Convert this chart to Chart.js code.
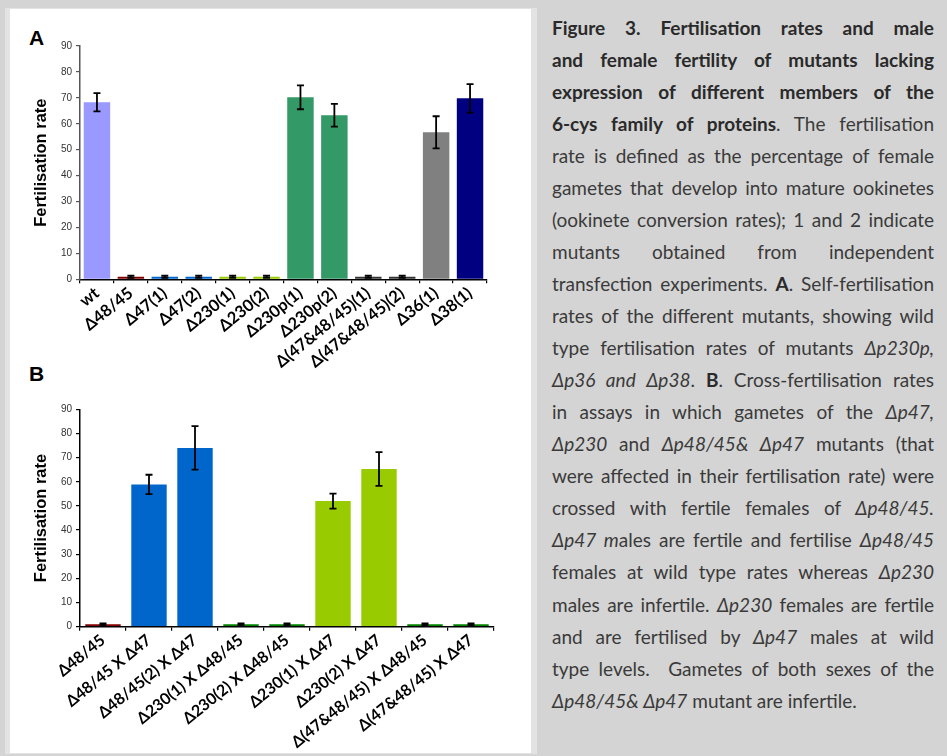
<!DOCTYPE html>
<html>
<head>
<meta charset="utf-8">
<script src="https://cdn.jsdelivr.net/npm/chart.js@4.4.1/dist/chart.umd.min.js"></script>
<style>
  html, body { margin:0; padding:0; }
  body { width:947px; height:756px; background:#d4d4d4; position:relative; overflow:hidden; }
  #strip { position:absolute; left:5px; top:8px; width:532px; height:746px; background:#e3e3e3; }
  #panel { position:absolute; left:10px; top:9px; width:521px; height:744px; background:#ffffff; }
  canvas { position:absolute; }
  .plab { position:absolute; font-family:"Liberation Sans", Arial, sans-serif; font-weight:bold; font-size:21px; color:#000; }
  #caption { position:absolute; left:552px; top:11.7px; width:382px; font-family:Lato, "Open Sans", sans-serif; font-size:18px; line-height:32.05px; color:#3a3a3a; }
  #caption div { white-space:nowrap; text-align:justify; text-align-last:justify; height:32.05px; }
  #caption div.last { text-align:left; text-align-last:left; }
  #caption b { color:#2a2a2a; }
  #measure { position:absolute; left:0; top:-200px; white-space:nowrap; visibility:hidden; font-family:Lato, "Open Sans", sans-serif; }
</style>
</head>
<body>
<div id="strip"></div>
<div id="panel"></div>
<div class="plab" style="left:29px; top:26px;">A</div>
<div class="plab" style="left:29px; top:362px;">B</div>
<canvas id="cA" width="522" height="385" style="left:9px; top:9px;"></canvas>
<canvas id="cB" width="522" height="380" style="left:9px; top:376px;"></canvas>
<div id="caption">
  <div><b>Figure 3. Fertilisation rates and male</b></div>
  <div><b>and female fertility of mutants lacking</b></div>
  <div><b>expression of different members of the</b></div>
  <div><b>6-cys family of proteins</b>. The fertilisation</div>
  <div>rate is defined as the percentage of female</div>
  <div>gametes that develop into mature ookinetes</div>
  <div>(ookinete conversion rates); 1 and 2 indicate</div>
  <div>mutants obtained from independent</div>
  <div>transfection experiments. <b>A</b>. Self-fertilisation</div>
  <div>rates of the different mutants, showing wild</div>
  <div>type fertilisation rates of mutants <i>Δp230p,</i></div>
  <div><i>Δp36 and Δp38</i>. <b>B</b>. Cross-fertilisation rates</div>
  <div>in assays in which gametes of the <i>Δp47,</i></div>
  <div><i>Δp230</i> and <i>Δp48/45&amp; Δp47</i> mutants (that</div>
  <div>were affected in their fertilisation rate) were</div>
  <div>crossed with fertile females of <i>Δp48/45.</i></div>
  <div><i>Δp47 m</i>ales are fertile and fertilise <i>Δp48/45</i></div>
  <div>females at wild type rates whereas <i>Δp230</i></div>
  <div>males are infertile. <i>Δp230</i> females are fertile</div>
  <div>and are fertilised by <i>Δp47</i> males at wild</div>
  <div>type levels.&nbsp; Gametes of both sexes of the</div>
  <div class="last"><i>Δp48/45&amp; Δp47</i> mutant are infertile.</div>
</div>
<span id="measure"></span>
<script>
// ---- Data: panel A (self-fertilisation) ----
const labelsA = ['wt','Δ48/45','Δ47(1)','Δ47(2)','Δ230(1)','Δ230(2)','Δ230p(1)','Δ230p(2)','Δ(47&48/45)(1)','Δ(47&48/45)(2)','Δ36(1)','Δ38(1)'];
const valuesA = [68.3, 1.0, 1.0, 1.0, 1.0, 1.0, 70.2, 63.3, 1.0, 1.0, 56.7, 69.8];
const errorsA = [3.5, 0.4, 0.4, 0.4, 0.4, 0.4, 4.6, 4.4, 0.4, 0.4, 6.2, 5.5];
const colorsA = ['#9999ff','#800000','#0066cc','#0066cc','#99cc00','#99cc00','#339966','#339966','#333333','#333333','#808080','#000080'];

// ---- Data: panel B (cross-fertilisation) ----
const labelsB = ['Δ48/45','Δ48/45 X Δ47','Δ48/45(2) X Δ47','Δ230(1) X Δ48/45','Δ230(2) X Δ48/45','Δ230(1) X Δ47','Δ230(2) X Δ47','Δ(47&48/45) X Δ48/45','Δ(47&48/45) X Δ47'];
const valuesB = [1.0, 58.9, 74.0, 1.0, 1.0, 52.0, 65.3, 1.0, 1.0];
const errorsB = [0.4, 4.0, 9.0, 0.4, 0.4, 3.1, 7.0, 0.4, 0.4];
const colorsB = ['#800000','#0066cc','#0066cc','#008000','#008000','#99cc00','#99cc00','#008000','#008000'];

const yTicks = [0,10,20,30,40,50,60,70,80,90];

// fit caption font so the widest natural line fits the column
(function fitCaption() {
  const cap = document.getElementById('caption');
  const m = document.getElementById('measure');
  const lines = Array.from(cap.querySelectorAll('div'));
  let size = 19;
  while (size > 12) {
    m.style.fontSize = size + 'px';
    let maxW = 0;
    lines.forEach(d => { m.innerHTML = d.innerHTML; maxW = Math.max(maxW, m.offsetWidth); });
    if (maxW <= 381) break;
    size -= 0.1;
  }
  cap.style.fontSize = size + 'px';
})();

const errorBarPlugin = {
  id: 'errorBars',
  afterDatasetsDraw(chart, args, opts) {
    const ctx = chart.ctx;
    const yScale = chart.scales.y;
    const meta = chart.getDatasetMeta(0);
    const errs = opts.errors || [];
    const vals = chart.data.datasets[0].data;
    ctx.save();
    ctx.strokeStyle = '#000';
    ctx.lineWidth = 1.8;
    meta.data.forEach((bar, i) => {
      const e = errs[i];
      if (e == null) return;
      const x = bar.x;
      const yTop = yScale.getPixelForValue(vals[i] + e);
      const yBot = yScale.getPixelForValue(vals[i] - e);
      const cap = 3.5;
      ctx.beginPath();
      ctx.moveTo(x, yTop); ctx.lineTo(x, yBot);
      ctx.moveTo(x - cap, yTop); ctx.lineTo(x + cap, yTop);
      ctx.moveTo(x - cap, yBot); ctx.lineTo(x + cap, yBot);
      ctx.stroke();
    });
    ctx.restore();
  }
};

function makeChart(id, labels, values, errors, colors, geom) {
  return new Chart(document.getElementById(id), {
    type: 'bar',
    data: {
      labels: labels,
      datasets: [{
        data: values,
        backgroundColor: colors,
        borderWidth: 0,
        categoryPercentage: 1.0,
        barPercentage: geom.barPct
      }]
    },
    plugins: [errorBarPlugin],
    options: {
      responsive: false,
      animation: false,
      devicePixelRatio: 1,
      layout: { padding: { top: geom.padTop, right: geom.padRight, left: 0, bottom: 0 } },
      plugins: {
        legend: { display: false },
        tooltip: { enabled: false },
        errorBars: { errors: errors }
      },
      scales: {
        x: {
          offset: true,
          grid: { offset: true, drawOnChartArea: false, drawTicks: true, tickLength: 4, color: '#000', lineWidth: 1.2 },
          border: { display: true, color: '#000', width: 1.5 },
          ticks: {
            autoSkip: false, maxRotation: 39, minRotation: 39, padding: 0,
            color: '#000',
            font: { family: 'Lato, "Liberation Sans", sans-serif', size: geom.xFont, weight: 'bold' }
          },
          afterFit: s => { s.height = geom.xHeight; }
        },
        y: {
          min: 0, max: 90,
          afterBuildTicks: s => { s.ticks = yTicks.map(v => ({ value: v })); },
          grid: { drawOnChartArea: false, drawTicks: true, tickLength: 4, color: geom.yColor, lineWidth: 1.2 },
          border: { display: true, color: geom.yColor, width: 1.5 },
          ticks: {
            padding: 4, color: '#333333',
            font: { family: '"Liberation Sans", Arial, sans-serif', size: 10 }
          },
          title: {
            display: true, text: 'Fertilisation rate', color: '#000',
            font: { family: '"Liberation Sans", Arial, sans-serif', size: 16.5, weight: 'bold' },
            padding: { top: 23, bottom: 0 }
          },
          afterFit: s => { s.width = 71; }
        }
      }
    }
  });
}

makeChart('cA', labelsA, valuesA, errorsA, colorsA,
  { barPct: 0.78, padTop: 37, padRight: 44, xHeight: 114.7, xFont: 16.5, yColor: '#555555' });
makeChart('cB', labelsB, valuesB, errorsB, colorsB,
  { barPct: 0.77, padTop: 33.3, padRight: 37, xHeight: 129.3, xFont: 16, yColor: '#000000' });
</script>
</body>
</html>
